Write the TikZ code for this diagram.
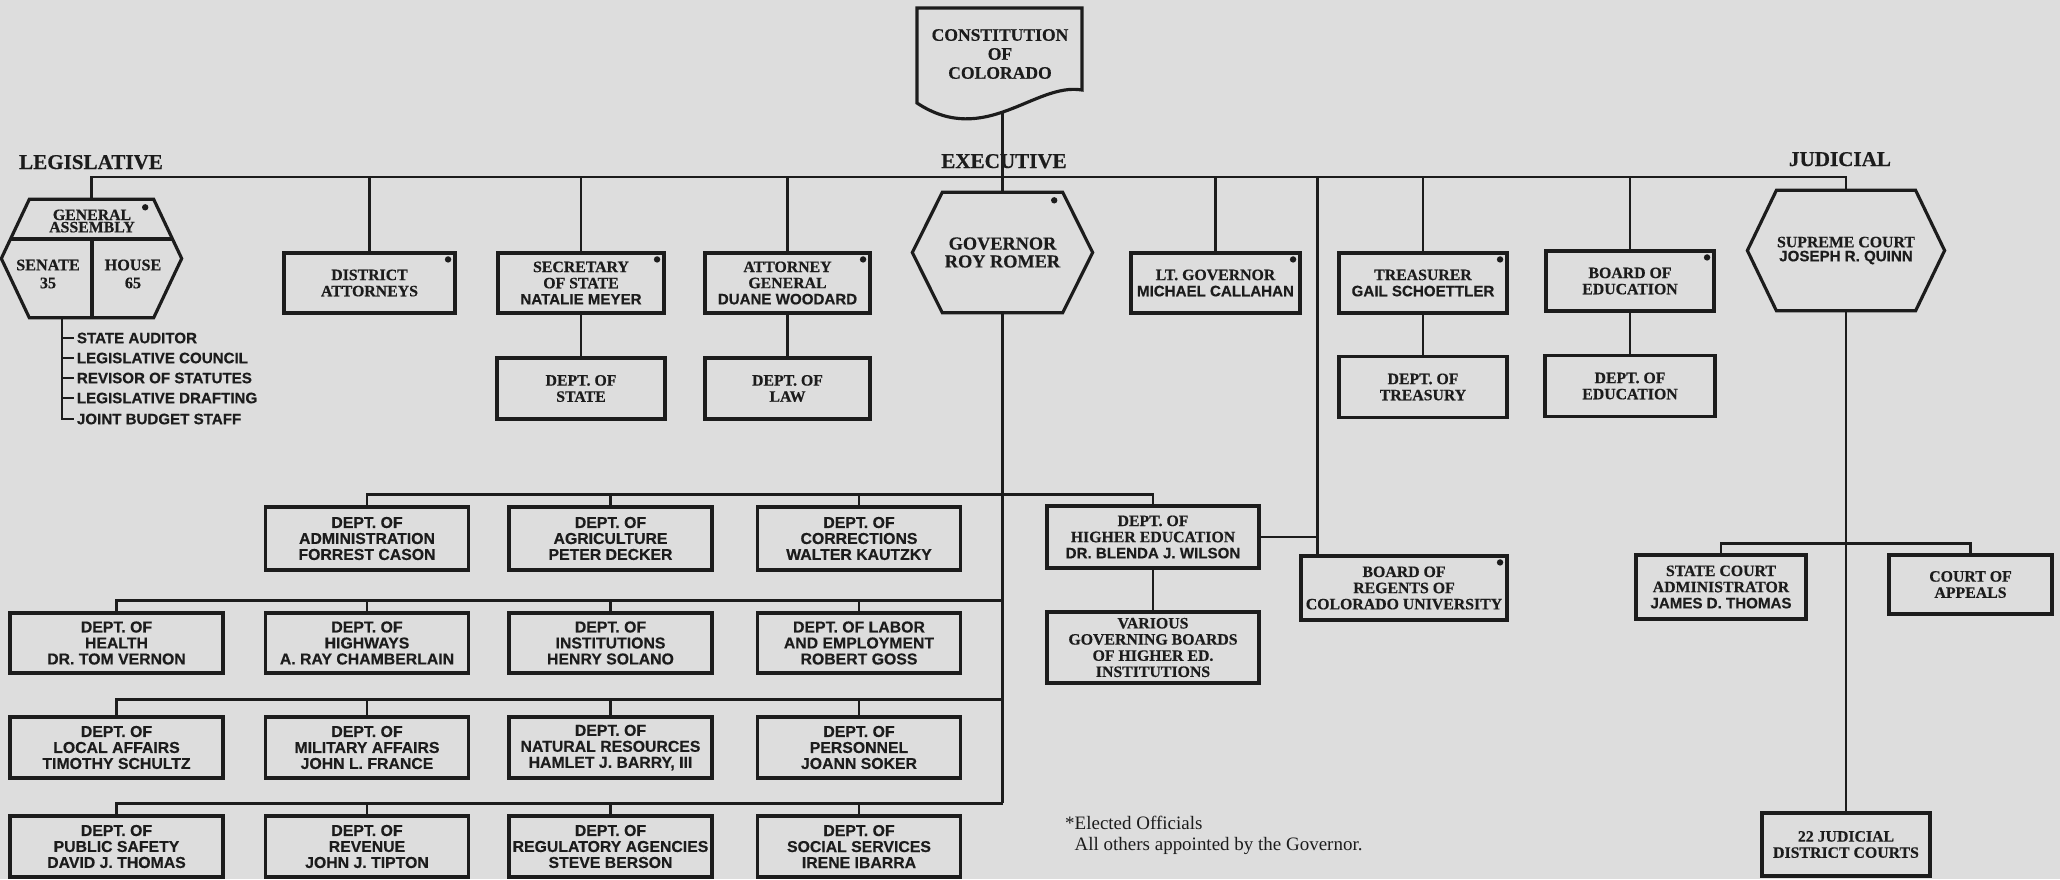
\documentclass[tikz,border=0pt]{standalone}
\usepackage{fontspec}
\setmainfont{Liberation Serif}[BoldFeatures={FakeBold=0.4}]
\newfontfamily\sansnm{Liberation Sans}[BoldFeatures={FakeBold=0.4}]
\usetikzlibrary{positioning}

\definecolor{paper}{RGB}{221,221,221}
\definecolor{ink}{RGB}{28,28,28}

\newcommand\boxhd{\bfseries\fontsize{4.5}{4.6}\selectfont}
\newcommand\boxnm{\sansnm\bfseries\fontsize{4.3}{4.6}\selectfont}
\newcommand\deptnm{\sansnm\bfseries\fontsize{4.5}{4.55}\selectfont}
\newcommand\branchlbl{\bfseries\fontsize{6}{7}\selectfont}

% outline of a flat-topped hexagon round a core node
\newcommand\hexout[2]{\draw[boxline] (#1.north west) -- (#1.north east) -- ([xshift=#2]#1.east) -- (#1.south east) -- (#1.south west) -- ([xshift=-#2]#1.west) -- cycle;}
% dot for an elected office
\newcommand\elect[1]{\fill[ink] ([shift={(-0.085,-0.08)}]#1.north east) circle (0.032);}

\begin{document}
\begin{tikzpicture}[
  every node/.style={text=ink},
  link/.style={draw=ink, line width=0.7pt},
  boxline/.style={draw=ink, line width=0.9pt},
  post/.style={boxline, inner sep=0pt, align=center, minimum height=0.60cm, font=\boxhd},
  dept/.style={boxline, inner sep=0pt, align=center, minimum width=2.03cm, font=\deptnm},
  hexcore/.style={inner sep=0pt, align=center, minimum height=1.19cm},
  staff/.style={anchor=west, inner sep=0.5pt, font=\sansnm\bfseries\fontsize{4.3}{5}\selectfont}]
\useasboundingbox (0,0) rectangle (20.6,-8.79);
\fill[paper] (0,0) rectangle (20.6,-8.79);

% branch labels
\node[anchor=base, font=\branchlbl] (leg) at (0.91,-1.69) {LEGISLATIVE};
\node[anchor=base, font=\branchlbl] (exe) at (10.04,-1.68) {EXECUTIVE};
\node[anchor=base, font=\branchlbl] (jud) at (18.40,-1.66) {JUDICIAL};
\coordinate (barY) at (0,-1.77);

% constitution
\draw[boxline] (9.17,-0.08) -- (10.82,-0.08) -- (10.82,-0.90) .. controls (10.35,-0.82) and (9.85,-1.48) .. (9.17,-1.03) -- cycle;
\node[align=center, font=\bfseries\fontsize{5}{5.4}\selectfont] (const) at (10.0,-0.54) {CONSTITUTION\\OF\\COLORADO};
\coordinate (constfoot) at (10.025,-1.11);

% legislative
\node[hexcore, minimum width=1.23cm, minimum height=1.17cm] (ga) at (0.915,-2.585) {};
\hexout{ga}{0.28cm}
\elect{ga}
\draw[boxline] (0.11,-2.39) -- (1.72,-2.39);
\draw[boxline] (0.92,-2.39) -- (0.92,-3.17);
\node[align=center, font=\bfseries\fontsize{4.5}{3.5}\selectfont] (gatxt) at (0.92,-2.21) {GENERAL\\ASSEMBLY};
\node[align=center, font=\bfseries\fontsize{4.6}{5.1}\selectfont] (sen) at (0.48,-2.74) {SENATE\\35};
\node[align=center, font=\bfseries\fontsize{4.6}{5.1}\selectfont] (hou) at (1.33,-2.74) {HOUSE\\65};
\coordinate (legbar) at (0.62,-3.17);
\node[staff] (aud) at (0.745,-3.38) {STATE AUDITOR};
\node[staff] (lco) at (0.745,-3.58) {LEGISLATIVE COUNCIL};
\node[staff] (rev) at (0.745,-3.78) {REVISOR OF STATUTES};
\node[staff] (ldr) at (0.745,-3.98) {LEGISLATIVE DRAFTING};
\node[staff] (jbs) at (0.745,-4.19) {JOINT BUDGET STAFF};

% elected executive posts
\node[post, minimum width=1.71cm] (da) at (3.695,-2.83) {DISTRICT\\ATTORNEYS};
\node[post, minimum width=1.66cm] (sos) at (5.81,-2.83) {SECRETARY\\OF STATE\\{\boxnm NATALIE MEYER}};
\node[post, minimum width=1.65cm] (ag) at (7.875,-2.83) {ATTORNEY\\GENERAL\\{\boxnm DUANE WOODARD}};
\node[hexcore, minimum width=1.19cm, font=\bfseries\fontsize{5.2}{5.1}\selectfont] (gov) at (10.025,-2.525) {GOVERNOR\\ROY ROMER};
\hexout{gov}{0.30cm}
\node[post, minimum width=1.69cm] (ltgov) at (12.155,-2.83) {LT. GOVERNOR\\{\boxnm MICHAEL CALLAHAN}};
\node[post, minimum width=1.68cm] (treas) at (14.23,-2.83) {TREASURER\\{\boxnm GAIL SCHOETTLER}};
\node[post, minimum width=1.68cm] (boe) at (16.30,-2.81) {BOARD OF\\EDUCATION};
\foreach \n in {da,sos,ag,gov,ltgov,treas,boe} {\elect{\n}}

\node[post, minimum width=1.68cm, minimum height=0.61cm] (dstate) at (5.81,-3.885) {DEPT. OF\\STATE};
\node[post, minimum width=1.65cm, minimum height=0.61cm] (dlaw) at (7.875,-3.885) {DEPT. OF\\LAW};
\node[post, minimum width=1.68cm, minimum height=0.61cm] (dtreas) at (14.23,-3.87) {DEPT. OF\\TREASURY};
\node[post, minimum width=1.70cm, minimum height=0.61cm] (dedu) at (16.30,-3.86) {DEPT. OF\\EDUCATION};

% departments under the governor
\node[dept, minimum height=0.63cm] (adm) at (3.67,-5.385) {DEPT. OF\\ADMINISTRATION\\FORREST CASON};
\node[dept, minimum height=0.63cm] (agr) at (6.105,-5.385) {DEPT. OF\\AGRICULTURE\\PETER DECKER};
\node[dept, minimum height=0.63cm] (cor) at (8.59,-5.385) {DEPT. OF\\CORRECTIONS\\WALTER KAUTZKY};
\node[post, minimum width=2.12cm, minimum height=0.62cm] (hied) at (11.53,-5.37) {DEPT. OF\\HIGHER EDUCATION\\{\boxnm DR. BLENDA J. WILSON}};
\node[post, minimum width=2.12cm, minimum height=0.71cm] (var) at (11.53,-6.475) {VARIOUS\\GOVERNING BOARDS\\OF HIGHER ED.\\INSTITUTIONS};
\node[post, minimum width=2.06cm, minimum height=0.64cm] (regents) at (14.04,-5.88) {BOARD OF\\REGENTS OF\\COLORADO UNIVERSITY};
\elect{regents}

\node[dept, minimum width=2.13cm, minimum height=0.60cm] (hlt) at (1.165,-6.43) {DEPT. OF\\HEALTH\\DR. TOM VERNON};
\node[dept, minimum height=0.60cm] (hwy) at (3.67,-6.43) {DEPT. OF\\HIGHWAYS\\A. RAY CHAMBERLAIN};
\node[dept, minimum height=0.60cm] (ins) at (6.105,-6.43) {DEPT. OF\\INSTITUTIONS\\HENRY SOLANO};
\node[dept, minimum height=0.60cm] (lab) at (8.59,-6.43) {DEPT. OF LABOR\\AND EMPLOYMENT\\ROBERT GOSS};

\node[dept, minimum width=2.13cm, minimum height=0.61cm] (loc) at (1.165,-7.475) {DEPT. OF\\LOCAL AFFAIRS\\TIMOTHY SCHULTZ};
\node[dept, minimum height=0.61cm] (mil) at (3.67,-7.475) {DEPT. OF\\MILITARY AFFAIRS\\JOHN L. FRANCE};
\node[dept, minimum height=0.61cm] (nat) at (6.105,-7.475) {DEPT. OF\\NATURAL RESOURCES\\HAMLET J. BARRY, III};
\node[dept, minimum height=0.61cm] (per) at (8.59,-7.475) {DEPT. OF\\PERSONNEL\\JOANN SOKER};

\node[dept, minimum width=2.13cm, minimum height=0.61cm] (pub) at (1.165,-8.465) {DEPT. OF\\PUBLIC SAFETY\\DAVID J. THOMAS};
\node[dept, minimum height=0.61cm] (rvn) at (3.67,-8.465) {DEPT. OF\\REVENUE\\JOHN J. TIPTON};
\node[dept, minimum height=0.61cm] (rga) at (6.105,-8.465) {DEPT. OF\\REGULATORY AGENCIES\\STEVE BERSON};
\node[dept, minimum height=0.61cm] (soc) at (8.59,-8.465) {DEPT. OF\\SOCIAL SERVICES\\IRENE IBARRA};

% judicial
\node[hexcore, minimum width=1.18cm, font=\bfseries\fontsize{4.5}{4.0}\selectfont] (sc) at (18.46,-2.505) {SUPREME COURT\\{\boxnm JOSEPH R. QUINN}};
\hexout{sc}{0.29cm}
\node[post, minimum width=1.70cm, minimum height=0.64cm] (sca) at (17.21,-5.87) {STATE COURT\\ADMINISTRATOR\\{\boxnm JAMES D. THOMAS}};
\node[post, minimum width=1.63cm, minimum height=0.59cm] (coa) at (19.705,-5.845) {COURT OF\\APPEALS};
\node[post, minimum width=1.68cm, minimum height=0.63cm] (dc) at (18.46,-8.445) {22 JUDICIAL\\DISTRICT COURTS};

% note
\node[anchor=base west, align=left, inner sep=0pt, font=\fontsize{5.4}{5.7}\selectfont] (note) at (10.74,-8.50) {\llap{*}Elected Officials\\All others appointed by the Governor.};

% connectors
\draw[link] (ga.north) -- (ga.north |- barY) -- (sc.north |- barY) -- (sc.north);
\foreach \n in {da,sos,ag,ltgov,treas,boe} {\draw[link] (\n.north) -- (\n.north |- barY);}
\draw[link] (constfoot) -- (gov.north);
\draw[link] (sos) -- (dstate);
\draw[link] (ag) -- (dlaw);
\draw[link] (treas) -- (dtreas);
\draw[link] (boe) -- (dedu);
\draw[link] (legbar) |- (jbs.west);
\foreach \n in {aud,lco,rev,ldr} {\draw[link] (\n.west -| legbar) -- (\n.west);}

\draw[link] (adm.north) -- ++(0,0.11) -| (hied.north);
\foreach \n in {agr,cor} {\draw[link] (\n.north) -- ++(0,0.11);}
\draw[link] (hlt.north) -- ++(0,0.11) coordinate (r2) -- (r2 -| gov.south);
\foreach \n in {hwy,ins,lab} {\draw[link] (\n.north) -- ++(0,0.11);}
\draw[link] (loc.north) -- ++(0,0.16) coordinate (r3) -- (r3 -| gov.south);
\foreach \n in {mil,nat,per} {\draw[link] (\n.north) -- ++(0,0.16);}
\draw[link] (pub.north) -- ++(0,0.11) coordinate (r4) -- (r4 -| gov.south);
\foreach \n in {rvn,rga,soc} {\draw[link] (\n.north) -- ++(0,0.11);}
\draw[link] (gov.south) -- (gov.south |- r4);
\draw[link] (hied) -- (var);
\draw[link] ([xshift=1.8mm]regents.north west) coordinate (regtap) -- (regtap |- barY);
\draw[link] (hied.east) -- (hied.east -| regtap);

\draw[link] (sc.south) -- (dc.north);
\draw[link] (sca.north) -- ++(0,0.10) -| (coa.north);
\end{tikzpicture}
\end{document}
